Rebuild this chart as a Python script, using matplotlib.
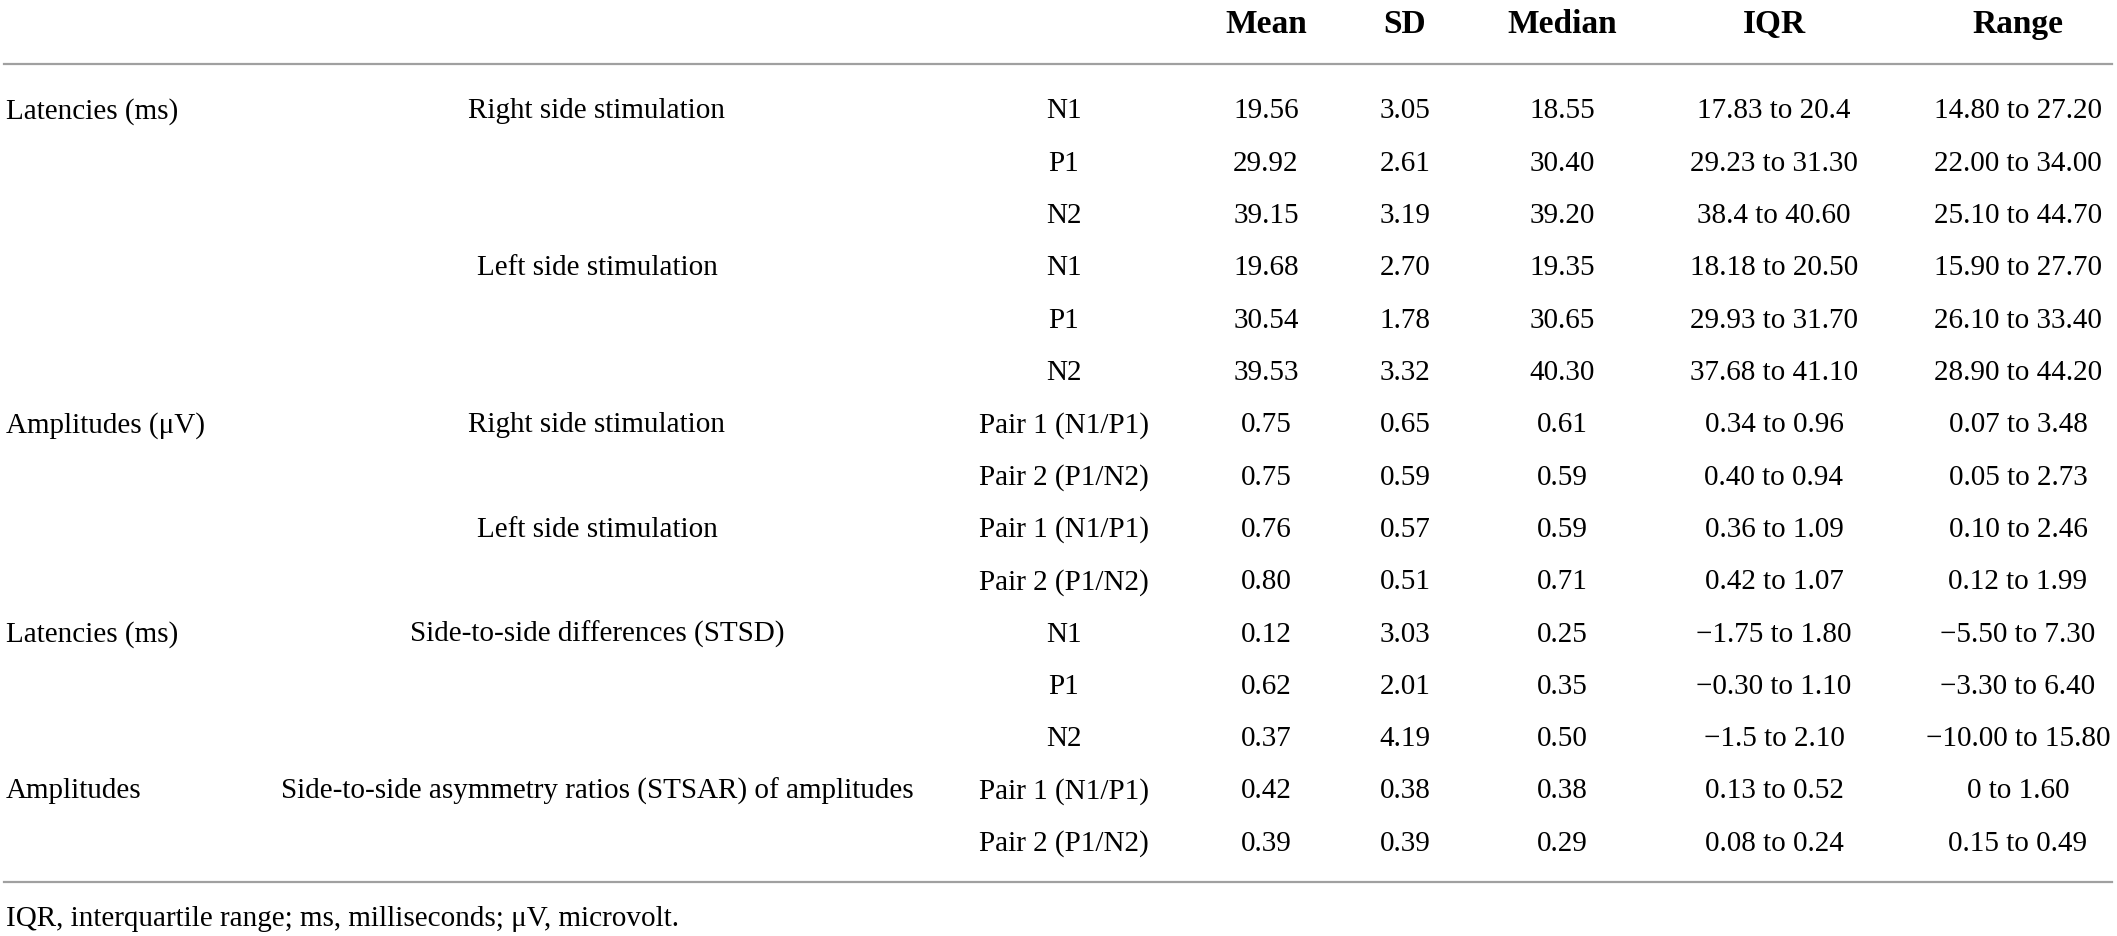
import matplotlib.pyplot as plt

plt.rcParams['font.family'] = ['Liberation Serif', 'DejaVu Serif']

headers = ["Mean", "SD", "Median", "IQR", "Range"]

measures = ["Latencies (ms)", "", "", "", "", "",
            "Amplitudes (\u03bcV)", "", "", "",
            "Latencies (ms)", "", "",
            "Amplitudes", ""]
conditions = ["Right side stimulation", "", "", "Left side stimulation", "", "",
              "Right side stimulation", "", "Left side stimulation", "",
              "Side-to-side differences (STSD)", "", "",
              "Side-to-side asymmetry ratios (STSAR) of amplitudes", ""]
items = ["N1", "P1", "N2", "N1", "P1", "N2",
         "Pair 1 (N1/P1)", "Pair 2 (P1/N2)", "Pair 1 (N1/P1)", "Pair 2 (P1/N2)",
         "N1", "P1", "N2",
         "Pair 1 (N1/P1)", "Pair 2 (P1/N2)"]
means = ["19.56", "29.92", "39.15", "19.68", "30.54", "39.53",
         "0.75", "0.75", "0.76", "0.80",
         "0.12", "0.62", "0.37", "0.42", "0.39"]
sds = ["3.05", "2.61", "3.19", "2.70", "1.78", "3.32",
       "0.65", "0.59", "0.57", "0.51",
       "3.03", "2.01", "4.19", "0.38", "0.39"]
medians = ["18.55", "30.40", "39.20", "19.35", "30.65", "40.30",
           "0.61", "0.59", "0.59", "0.71",
           "0.25", "0.35", "0.50", "0.38", "0.29"]
iqrs = ["17.83 to 20.4", "29.23 to 31.30", "38.4 to 40.60",
        "18.18 to 20.50", "29.93 to 31.70", "37.68 to 41.10",
        "0.34 to 0.96", "0.40 to 0.94", "0.36 to 1.09", "0.42 to 1.07",
        "\u22121.75 to 1.80", "\u22120.30 to 1.10", "\u22121.5 to 2.10",
        "0.13 to 0.52", "0.08 to 0.24"]
ranges = ["14.80 to 27.20", "22.00 to 34.00", "25.10 to 44.70",
          "15.90 to 27.70", "26.10 to 33.40", "28.90 to 44.20",
          "0.07 to 3.48", "0.05 to 2.73", "0.10 to 2.46", "0.12 to 1.99",
          "\u22125.50 to 7.30", "\u22123.30 to 6.40", "\u221210.00 to 15.80",
          "0 to 1.60", "0.15 to 0.49"]
footnote = "IQR, interquartile range; ms, milliseconds; \u03bcV, microvolt."

W, H = 2117, 936
fig = plt.figure(figsize=(W / 100, H / 100), dpi=100)
ax = fig.add_axes([0, 0, 1, 1])
ax.set_xlim(0, W)
ax.set_ylim(H, 0)
ax.axis("off")

col_x = [1064, 1266, 1405, 1562, 1774, 2018]
cond_x = 597
row_y0, row_step = 118.5, 52.3   # baselines
fs = 21

for x, h in zip(col_x[1:], headers):
    ax.text(x, 33, h, ha="center", va="baseline", fontsize=24, fontweight="bold")

line_kw = dict(color="#a0a0a0", lw=1.6)
ax.plot([4, 2112], [64, 64], **line_kw)
ax.plot([4, 2112], [882, 882], **line_kw)

columns = [items, means, sds, medians, iqrs, ranges]
for i in range(len(items)):
    y = row_y0 + i * row_step
    if measures[i]:
        ax.text(6, y, measures[i], ha="left", va="baseline", fontsize=fs)
    if conditions[i]:
        ax.text(cond_x, y, conditions[i], ha="center", va="baseline", fontsize=fs)
    for x, col in zip(col_x, columns):
        ax.text(x, y, col[i], ha="center", va="baseline", fontsize=fs)

ax.text(6, 926, footnote, ha="left", va="baseline", fontsize=fs)

fig.savefig("out.png", dpi=100)
